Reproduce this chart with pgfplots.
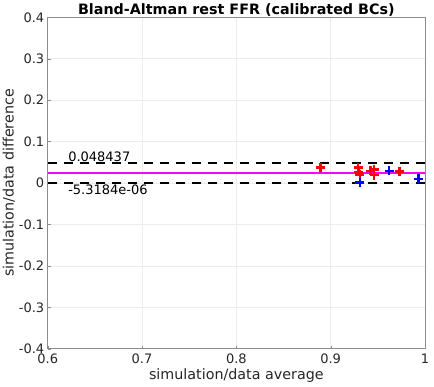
\documentclass[border=0pt]{standalone}
\usepackage{pgfplots}
\pgfplotsset{compat=1.18}
\usepackage{fontspec}
\setmainfont{DejaVu Sans}
\definecolor{tickgray}{gray}{0.15}
\begin{document}
\begin{tikzpicture}
\begin{axis}[
  scale only axis,
  width=377.3bp, height=331.4bp,
  xmin=0.6, xmax=1, ymin=-0.4, ymax=0.4,
  xtick={0.6,0.7,0.8,0.9,1},
  xticklabels={0.6,0.7,0.8,0.9,1},
  ytick={-0.4,-0.3,-0.2,-0.1,0,0.1,0.2,0.3,0.4},
  yticklabels={-0.4,-0.3,-0.2,-0.1,0,0.1,0.2,0.3,0.4},
  tick label style={font=\fontsize{13bp}{15bp}\selectfont, text=tickgray},
  xticklabel style={yshift=-1.5bp},
  label style={font=\fontsize{14.3bp}{16bp}\selectfont, text=tickgray},
  title style={font=\fontsize{14.3bp}{16bp}\selectfont\bfseries, yshift=-9bp},
  title={Bland-Altman rest FFR (calibrated BCs)},
  xlabel={simulation/data average},
  ylabel={simulation/data difference},
  xlabel style={yshift=2bp},
  ylabel style={yshift=-3bp},
  grid=major,
  major grid style={gray!15, line width=0.5bp},
  axis line style={black!45, line width=0.6bp},
  tick style={black!45},
  major tick length=3bp,
  tick align=inside,
  xtick pos=left, ytick pos=left,
  clip=true,
]
\addplot[black, line width=2bp, dash pattern=on 9bp off 7bp] coordinates {(0.6,0.048437) (1,0.048437)};
\addplot[black, line width=2bp, dash pattern=on 9bp off 7bp] coordinates {(0.6,-5.3184e-06) (1,-5.3184e-06)};
\addplot[color={rgb,1:red,1;green,0;blue,1}, line width=2bp] coordinates {(0.6,0.0242157) (1,0.0242157)};
\addplot[only marks, red, mark=+, mark size=4.5bp, line width=2.5bp] coordinates {
(0.889,0.037)
(0.929,0.038)
(0.930,0.027)
(0.931,0.020)
(0.942,0.029)
(0.946,0.032)
(0.946,0.019)
(0.973,0.028)
};
\addplot[only marks, blue, mark=+, mark size=4.5bp, line width=2.5bp] coordinates {
(0.931,0.001)
(0.962,0.029)
(0.993,0.010)
};
\node[anchor=south west, inner sep=1.5bp, font=\fontsize{13bp}{15bp}\selectfont] at (axis cs:0.62,0.048437) {0.048437};
\node[anchor=north west, inner sep=1.5bp, font=\fontsize{13bp}{15bp}\selectfont] at (axis cs:0.62,-5.3184e-06) {-5.3184e-06};
\end{axis}
\pgfresetboundingbox
\path ([shift={(-47.7bp,-38.3bp)}]current axis.south west) rectangle ([shift={(9bp,17.3bp)}]current axis.north east);
\end{tikzpicture}
\end{document}
